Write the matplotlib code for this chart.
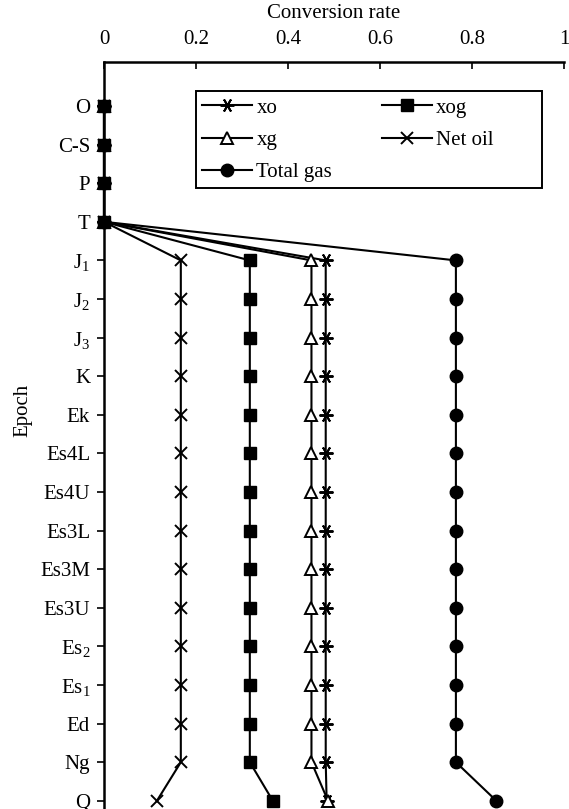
import matplotlib
matplotlib.use('Agg')
import matplotlib.pyplot as plt
from matplotlib.patches import Rectangle
import numpy as np

plt.rcParams['font.family'] = 'Liberation Serif'
plt.rcParams['mathtext.fontset'] = 'custom'
plt.rcParams['mathtext.rm'] = 'Liberation Serif'
plt.rcParams['mathtext.it'] = 'Liberation Serif:italic'

epochs = ['O', 'C-S', 'P', 'T', 'J$_1$', 'J$_2$', 'J$_3$', 'K', 'Ek', 'Es4L',
          'Es4U', 'Es3L', 'Es3M', 'Es3U', 'Es$_2$', 'Es$_1$', 'Ed', 'Ng', 'Q']

n_mid = 14  # J1 .. Ng
xo = [0, 0, 0, 0] + [0.482] * n_mid + [0.484]
xog = [0, 0, 0, 0] + [0.317] * n_mid + [0.367]
xg = [0, 0, 0, 0] + [0.451] * n_mid + [0.487]
net_oil = [0, 0, 0, 0] + [0.167] * n_mid + [0.115]
total_gas = [0, 0, 0, 0] + [0.765] * n_mid + [0.853]

W, H = 569, 809
fig = plt.figure(figsize=(W / 100, H / 100), dpi=100)
row0, step = 106, 38.6
top_px = 62
ylim_top = -(row0 - top_px) / step
ylim_bot = 18.6
bot_px = row0 + ylim_bot * step
ax = fig.add_axes([104 / W, 1 - bot_px / H, 460 / W, (bot_px - top_px) / H])

fs = 15
y = np.arange(len(epochs))
lw = 1.5
kw = dict(color='black', lw=lw, clip_on=False)
h_xo, = ax.plot(xo, y, marker=(6, 2, 90), ms=10, mew=1.4, label='xo', **kw)
h_xg, = ax.plot(xg, y, marker='^', ms=8, mfc='white', mew=1.4, label='xg', **kw)
h_no, = ax.plot(net_oil, y, marker='x', ms=9, mew=1.4, label='Net oil', **kw)
h_tg, = ax.plot(total_gas, y, marker='o', ms=9, label='Total gas', **kw)
h_xog, = ax.plot(xog, y, marker='s', ms=8, label='xog', **kw)

ax.set_xlim(0, 1)
ax.set_ylim(ylim_bot, ylim_top)
ax.xaxis.tick_top()
ax.xaxis.set_label_position('top')
ax.set_xticks([0, 0.2, 0.4, 0.6, 0.8, 1])
ax.set_xticklabels(['0', '0.2', '0.4', '0.6', '0.8', '1'])
ax.set_yticks(y)
ax.set_yticklabels(epochs)
ax.tick_params(axis='x', direction='in', length=5, width=1.2, labelsize=fs, pad=9)
ax.tick_params(axis='y', direction='out', length=5, width=1.2, labelsize=fs, pad=5)
ax.spines['right'].set_visible(False)
ax.spines['bottom'].set_visible(False)
ax.spines['top'].set_linewidth(1.8)
ax.spines['left'].set_linewidth(1.8)
ax.set_xlabel('Conversion rate', fontsize=fs, labelpad=9)
ax.set_ylabel('Epoch', fontsize=fs)
ax.yaxis.set_label_coords(-0.155, 1 - (410 - top_px) / (bot_px - top_px))

leg = ax.legend(handles=[h_xo, h_xg, h_tg, h_xog, h_no], ncol=2, fontsize=fs,
                loc='upper left', bbox_to_anchor=((198 - 104) / 460, 1 - (94 - top_px) / (bot_px - top_px)),
                frameon=False, handlelength=2.4, columnspacing=2.4, labelspacing=0.6,
                borderpad=0.2, handletextpad=0.2, borderaxespad=0)

# legend frame as drawn in the original (extra room on the right)
fig.patches.append(Rectangle((196 / W, 1 - 188 / H), (542 - 196) / W, (188 - 91) / H,
                             transform=fig.transFigure, fill=False, edgecolor='black', lw=1.4))

fig.savefig('out.png', dpi=100)
